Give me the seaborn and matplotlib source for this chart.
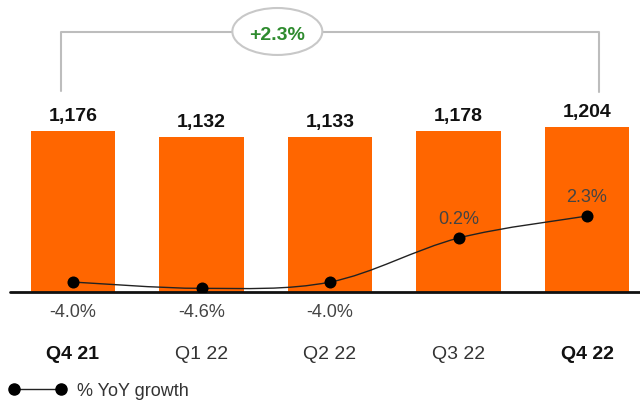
import pandas as pd
import matplotlib.pyplot as plt
import seaborn as sns
from matplotlib.path import Path
from matplotlib.patches import PathPatch, Ellipse
from matplotlib.lines import Line2D

# data
quarters = ["Q4 21", "Q1 22", "Q2 22", "Q3 22", "Q4 22"]
revenue = [1176, 1132, 1133, 1178, 1204]
yoy_growth = [-4.0, -4.6, -4.0, 0.2, 2.3]
bold_quarters = ["Q4 21", "Q4 22"]
total_change = "+2.3%"

df = pd.DataFrame({"quarter": quarters, "revenue": revenue, "growth": yoy_growth})


def smooth_path(xs, ys):
    """Catmull-Rom style bezier through the points (like a smoothed office chart line)."""
    pts = list(zip(xs, ys))
    verts = [pts[0]]
    codes = [Path.MOVETO]
    for i in range(len(pts) - 1):
        p0 = pts[max(i - 1, 0)]
        p1 = pts[i]
        p2 = pts[i + 1]
        p3 = pts[min(i + 2, len(pts) - 1)]
        c1 = (p1[0] + (p2[0] - p0[0]) / 6, p1[1] + (p2[1] - p0[1]) / 6)
        c2 = (p2[0] - (p3[0] - p1[0]) / 6, p2[1] - (p3[1] - p1[1]) / 6)
        verts += [c1, c2, p2]
        codes += [Path.CURVE4] * 3
    return Path(verts, codes)


sns.set_theme(style="white")
plt.rcParams["font.family"] = ["Liberation Sans", "DejaVu Sans"]

fig = plt.figure(figsize=(6.4, 4.03), dpi=100)
ax = fig.add_axes([0, 0.2754, 1, 0.7246])

sns.barplot(data=df, x="quarter", y="revenue", color="#ff6600", saturation=1,
            width=0.66, linewidth=0, ax=ax)
ax.set_xlim(-0.568, 4.412)
ax.set_ylim(0, 2133)
sns.despine(ax=ax, left=True, bottom=True, top=True, right=True)
ax.set_yticks([])
ax.set_xlabel("")
ax.set_ylabel("")

# value labels above bars
for i, v in enumerate(revenue):
    ax.annotate(f"{v:,}", (i, v), xytext=(0, 7), textcoords="offset points",
                ha="center", va="baseline", fontsize=14, fontweight="bold", color="#111111")

# category labels
ax.set_xticks(range(len(quarters)))
ax.set_xticklabels(quarters)
for lab in ax.get_xticklabels():
    lab.set_fontsize(14)
    if lab.get_text() in bold_quarters:
        lab.set_fontweight("bold")
        lab.set_color("#111111")
    else:
        lab.set_color("#333333")
ax.tick_params(axis="x", length=0, pad=39)

# baseline
ax.axhline(0, xmin=10 / 640, xmax=1, color="#111111", lw=2, clip_on=False, zorder=5)

# bracket with total change
ax.plot([-0.09, -0.09, 4.09, 4.09], [1468, 1899, 1899, 1460],
        color="#bdbdbd", lw=1.5, clip_on=False, zorder=1)
ax.add_patch(Ellipse((1.59, 1903), 0.70, 343, fc="white", ec="#c8c8c8", lw=1.5,
                     clip_on=False, zorder=5))
ax.text(1.59, 1872, total_change, ha="center", va="center", fontsize=14,
        fontweight="bold", color="#2e8b2e", zorder=6)

# growth line on a second axis
ax2 = ax.twinx()
ax2.set_ylim(-4.95, 22.91)
ax2.set_yticks([])
sns.despine(ax=ax2, left=True, bottom=True, top=True, right=True)
xs = list(range(len(quarters)))
ax2.add_patch(PathPatch(smooth_path(xs, yoy_growth), fc="none", ec="#222222", lw=1))
sns.scatterplot(x=xs, y=yoy_growth, ax=ax2, color="black", s=75, linewidth=0, zorder=4)

for i, g in enumerate(yoy_growth):
    if g < 0:
        ax.annotate(f"{g:.1f}%", (i, 0), xytext=(0, -15), textcoords="offset points",
                    ha="center", va="center", fontsize=13, color="#444444")
    else:
        ax2.annotate(f"{g:.1f}%", (i, g), xytext=(0, 13), textcoords="offset points",
                     ha="center", va="center", fontsize=13, color="#444444")

# legend
handle = Line2D([], [], color="#222222", lw=1, marker="o", markersize=8,
                markerfacecolor="black", markeredgecolor="black")
fig.legend(handles=[handle], labels=["% YoY growth"], loc="center left",
           bbox_to_anchor=(8.6 / 640, 12 / 403), numpoints=2, frameon=False,
           fontsize=13, handlelength=3.2, handletextpad=0.6,
           borderpad=0, borderaxespad=0, labelcolor="#333333")

fig.savefig("out.png", dpi=100)
